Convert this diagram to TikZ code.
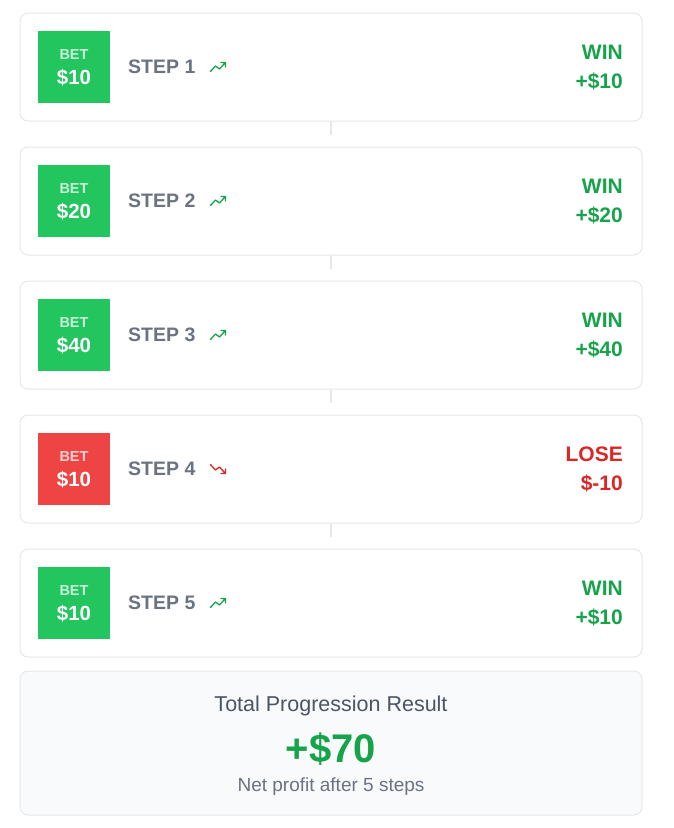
\documentclass[tikz,border=0pt]{standalone}
\usepackage{fontspec}
\setmainfont{Liberation Sans}
\usepackage{xcolor}
\definecolor{hopxanh}{HTML}{22C55E}
\definecolor{hopdo}{HTML}{EF4444}
\definecolor{chuxanh}{HTML}{16A34A}
\definecolor{chudo}{HTML}{DC2626}
\definecolor{chuxam}{HTML}{6B7280}
\definecolor{chuxamdam}{HTML}{4B5563}
\definecolor{vien}{HTML}{E5E7EB}
\definecolor{nen}{HTML}{F8FAFC}
\def\conbuoc{\tikz[line width=1.3pt,line cap=round,line join=round]{\draw (0pt,0pt)--(5pt,5.5pt)--(9pt,2.5pt)--(15pt,9pt) (10.5pt,9pt)--(15pt,9pt)--(15pt,4.5pt);}}
\def\xuongbuoc{\tikz[line width=1.3pt,line cap=round,line join=round]{\draw (0pt,9pt)--(5pt,3.5pt)--(9pt,6.5pt)--(15pt,0pt) (10.5pt,0pt)--(15pt,0pt)--(15pt,4.5pt);}}
\usetikzlibrary{calc,positioning}

\begin{document}
\begin{tikzpicture}[x=1pt,y=-1pt,
	the/.style={draw=vien,line width=1pt,rounded corners=8pt,fill=white,minimum width=622pt,minimum height=108pt,inner sep=0pt},
	hop/.style={minimum size=72pt,inner sep=0pt},
	chu/.style={inner sep=0pt,font=\bfseries\fontsize{21}{23}\selectfont}]
	\useasboundingbox (0,0) rectangle (673,828);
	%%%Vẽ các thẻ bước
	\foreach [count=\i from 0] \h/\c/\b/\k/\t/\bieu in {%
		hopxanh/chuxanh/10/WIN/+\$10/\conbuoc,
		hopxanh/chuxanh/20/WIN/+\$20/\conbuoc,
		hopxanh/chuxanh/40/WIN/+\$40/\conbuoc,
		hopdo/chudo/10/LOSE/\$-10/\xuongbuoc,
		hopxanh/chuxanh/10/WIN/+\$10/\conbuoc
		}{%
		\pgfmathsetmacro{\yy}{67+134*\i}
		\node[the] (the-\i) at (331,\yy) {};
		\node[hop,fill=\h] (hop-\i) at (74,\yy) {};
		\node[inner sep=0pt,text=white!75!\h,font=\bfseries\fontsize{14.5}{16}\selectfont] (bet-\i) at ($(hop-\i)+(0,-12)$) {BET};
		\node[inner sep=0pt,text=white,font=\bfseries\fontsize{20.5}{22}\selectfont] (tien-\i) at ($(hop-\i)+(0,11)$) {\$\b};
		\node[anchor=west,inner sep=0pt,text=chuxam,font=\bfseries\fontsize{19.5}{22}\selectfont] (buoc-\i) at (128,\yy) {STEP \the\numexpr\i+1\relax};
		\node[right=14pt of buoc-\i,inner sep=0pt,\c] (icon-\i) {\bieu};
		\node[chu,anchor=east,text=\c] (kq-\i) at (623,\yy-15) {\k};
		\node[chu,anchor=east,text=\c] (so-\i) at (623,\yy+14) {\t};
	}
	%%%Vẽ nối giữa các thẻ
	\foreach \i in {0,...,3}{%
		\coordinate (noi-\i) at ($(the-\i.south)+(0,13)$);
		\draw[vien,line width=1.2pt] (the-\i.south)--(noi-\i);
	}
	%%%Vẽ ô tổng kết
	\node[draw=vien,line width=1pt,rounded corners=8pt,fill=nen,minimum width=622pt,minimum height=144pt,inner sep=0pt] (tong) at (331,743) {};
	\node[inner sep=0pt,text=chuxamdam,font=\fontsize{21.5}{24}\selectfont] (tieude) at (331,705.5) {Total Progression Result};
	\node[inner sep=0pt,text=chuxanh,font=\bfseries\fontsize{40}{44}\selectfont] (tongso) at (331,749) {+\$70};
	\node[inner sep=0pt,text=chuxam,font=\fontsize{19}{22}\selectfont] (ghichu) at (331,786.5) {Net profit after 5 steps};
\end{tikzpicture}
\end{document}
